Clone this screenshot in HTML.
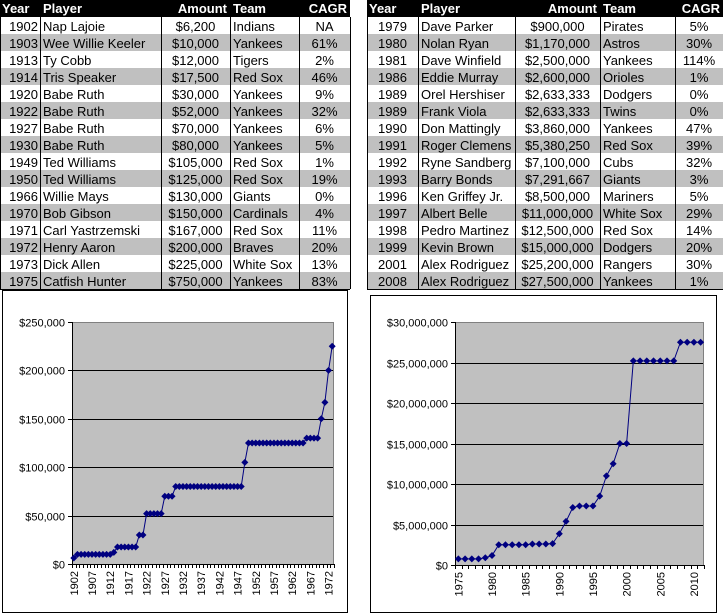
<!DOCTYPE html>
<html><head><meta charset="utf-8"><style>
html,body{margin:0;padding:0;background:#fff;width:723px;height:614px;overflow:hidden}
svg{display:block}
text{font-family:"Liberation Sans",Arial,sans-serif}
</style></head><body>
<svg id="s" width="723" height="614" xmlns="http://www.w3.org/2000/svg"></svg>
<script>
const s=document.getElementById('s');let h='';
function T(x,y,t,a,sz,c,w){h+=`<text x="${x}" y="${y}" text-anchor="${a||'start'}" font-size="${sz||13}" fill="${c||'#000'}" ${w?'font-weight="bold"':''}>${t}</text>`}
function R(x,y,w,hh,f,st){h+=`<rect x="${x}" y="${y}" width="${w}" height="${hh}" fill="${f}" ${st?`stroke="${st}" stroke-width="1"`:''}/>`}
function L(x1,y1,x2,y2,c,w){h+=`<line x1="${x1}" y1="${y1}" x2="${x2}" y2="${y2}" stroke="${c||'#000'}" stroke-width="${w||1}"/>`}
const A=[["1902","Nap Lajoie","$6,200","Indians","NA"],["1903","Wee Willie Keeler","$10,000","Yankees","61%"],["1913","Ty Cobb","$12,000","Tigers","2%"],["1914","Tris Speaker","$17,500","Red Sox","46%"],["1920","Babe Ruth","$30,000","Yankees","9%"],["1922","Babe Ruth","$52,000","Yankees","32%"],["1927","Babe Ruth","$70,000","Yankees","6%"],["1930","Babe Ruth","$80,000","Yankees","5%"],["1949","Ted Williams","$105,000","Red Sox","1%"],["1950","Ted Williams","$125,000","Red Sox","19%"],["1966","Willie Mays","$130,000","Giants","0%"],["1970","Bob Gibson","$150,000","Cardinals","4%"],["1971","Carl Yastrzemski","$167,000","Red Sox","11%"],["1972","Henry Aaron","$200,000","Braves","20%"],["1973","Dick Allen","$225,000","White Sox","13%"],["1975","Catfish Hunter","$750,000","Yankees","83%"]];
const B=[["1979","Dave Parker","$900,000","Pirates","5%"],["1980","Nolan Ryan","$1,170,000","Astros","30%"],["1981","Dave Winfield","$2,500,000","Yankees","114%"],["1986","Eddie Murray","$2,600,000","Orioles","1%"],["1989","Orel Hershiser","$2,633,333","Dodgers","0%"],["1989","Frank Viola","$2,633,333","Twins","0%"],["1990","Don Mattingly","$3,860,000","Yankees","47%"],["1991","Roger Clemens","$5,380,250","Red Sox","39%"],["1992","Ryne Sandberg","$7,100,000","Cubs","32%"],["1993","Barry Bonds","$7,291,667","Giants","3%"],["1996","Ken Griffey Jr.","$8,500,000","Mariners","5%"],["1997","Albert Belle","$11,000,000","White Sox","29%"],["1998","Pedro Martinez","$12,500,000","Red Sox","14%"],["1999","Kevin Brown","$15,000,000","Dodgers","20%"],["2001","Alex Rodriguez","$25,200,000","Rangers","30%"],["2008","Alex Rodriguez","$27,500,000","Yankees","1%"]];
function table(x0,cols,data,yearAnchor){
 // cols: boundaries
 R(x0,0,cols[5]-x0,17,'#000');
 const hd=["Year","Player","Amount","Team","CAGR"];
 T(x0+2,13,"Year",'start',13,'#fff',1);T(cols[1]+3,13,"Player",'start',13,'#fff',1);
 T(cols[3]-3,13,"Amount",'end',13,'#fff',1);T(cols[3]+3,13,"Team",'start',13,'#fff',1);T(cols[5]-3,13,"CAGR",'end',13,'#fff',1);
 data.forEach((r,i)=>{const y=17+i*17;R(x0,y,cols[5]-x0,17,i%2?'#c0c0c0':'#fff');
  if(yearAnchor==='end')T(cols[1]-2,y+14,r[0],'end');else T((x0+cols[1])/2,y+14,r[0],'middle');
  T(cols[1]+3,y+14,r[1]);T((cols[2]+cols[3])/2,y+14,r[2],'middle');T(cols[3]+3,y+14,r[3]);T((cols[4]+cols[5])/2,y+14,r[4],'middle');
  L(x0,y+17.5,cols[5],y+17.5);});
 for(let k=0;k<6;k++)L(cols[k]+0.5,17,cols[k]+0.5,289);
}
table(0,[0,40,161,230,299,350],A,'end');
table(367,[367,418,515,600,675,723],B,'mid');
function chart(bx,by,bw,bh,px,py,pw,ph,max,step,labels,vals,y0,lblStep,lblW){
 R(bx+0.5,by+0.5,bw,bh,'#fff','#000');
 R(px,py,pw,ph,'#c0c0c0');
 for(let v=step;v<=max;v+=step){const y=Math.round(py+ph-v/max*ph)+0.5;L(px,y,px+pw,y,'#000');}
 for(let v=0;v<=max;v+=step){const y=Math.round(py+ph-v/max*ph)+0.5;L(px-4,y,px,y);T(px-7,y+4,'$'+v.toLocaleString('en-US'),'end',11);}
 L(px+0.5,py,px+0.5,py+ph,'#808080');L(px+pw-0.5,py,px+pw-0.5,py+ph,'#808080');L(px,py+0.5,px+pw,py+0.5,'#808080');
 const n=vals.length,cw=pw/n;
 L(px,py+ph+0.5,px+pw,py+ph+0.5,'#000');L(px+0.5,py,px+0.5,py+ph+4);
 for(let i=0;i<=n;i++){const x=Math.round(px+i*cw)+0.5;L(x,py+ph,x,py+ph+4);}
 let pts=vals.map((v,i)=>[px+(i+0.5)*cw,py+ph-v/max*ph]);
 h+=`<polyline points="${pts.map(p=>p.join(',')).join(' ')}" fill="none" stroke="#000080" stroke-width="1"/>`;
 pts.forEach(p=>{h+=`<polygon points="${p[0]},${p[1]-3.5} ${p[0]+3.5},${p[1]} ${p[0]},${p[1]+3.5} ${p[0]-3.5},${p[1]}" fill="#000080"/>`});
 for(let i=0;i<n;i+=lblStep){const x=px+(i+0.5)*cw+4;h+=`<text transform="translate(${x},${py+ph+7}) rotate(-90)" text-anchor="end" font-size="11">${y0+i}</text>`;}
}
function build(start,end,steps){const o=[];let cur=0;for(let y=start;y<=end;y++){if(steps[y]!==undefined)cur=steps[y];o.push(cur);}return o;}
const v1=build(1902,1973,{1902:6200,1903:10000,1913:12000,1914:17500,1920:30000,1922:52000,1927:70000,1930:80000,1949:105000,1950:125000,1966:130000,1970:150000,1971:167000,1972:200000,1973:225000});
const v2=build(1975,2011,{1975:750000,1979:900000,1980:1170000,1981:2500000,1986:2600000,1989:2633333,1990:3860000,1991:5380250,1992:7100000,1993:7291667,1996:8500000,1997:11000000,1998:12500000,1999:15000000,2001:25200000,2008:27500000});
chart(2,290,345,322,72,322,262,242,250000,50000,null,v1,1902,5);
chart(370,295,346,317,455,322,249,243,30000000,5000000,null,v2,1975,5);
s.innerHTML=h;
</script>
</body></html>
